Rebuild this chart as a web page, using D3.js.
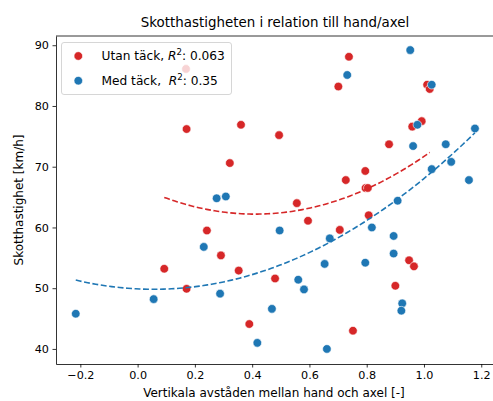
<!DOCTYPE html>
<html><head><meta charset="utf-8">
<script src="https://cdn.jsdelivr.net/npm/d3@7"></script>
<style>
body{margin:0;background:#fff}
svg text{font-family:"DejaVu Sans",sans-serif;fill:#000}
</style>
</head><body>
<svg id="c" width="493" height="401"></svg>
<script>
// ---- data ----
const utanX = [0.169,0.171,0.361,0.322,0.494,0.738,0.701,1.011,1.020,0.959,0.992,0.878,0.795,0.727,0.796,0.804,0.556,0.595,0.706,0.807,0.480,0.948,0.965,0.900,0.752,0.242,0.291,0.093,0.353,0.171,0.390];
const utanY = [86.1,76.2,76.9,70.6,75.2,88.1,83.2,83.5,82.8,76.6,77.5,73.7,69.3,67.8,66.5,66.5,64.0,61.1,59.6,62.0,51.6,54.6,53.6,50.4,43.0,59.5,55.4,53.2,52.9,49.9,44.1];
const medX = [0.952,0.732,1.027,0.977,1.178,0.962,1.076,1.095,1.027,1.157,0.908,0.496,0.818,0.894,0.671,0.894,0.653,0.795,0.561,0.581,0.924,0.921,0.661,0.469,0.276,0.308,0.231,-0.216,0.056,0.288,0.418];
const medY = [89.2,85.1,83.5,76.9,76.3,73.4,73.7,70.8,69.6,67.8,64.4,59.5,60.0,58.6,58.2,55.7,54.0,54.2,51.4,49.8,47.5,46.3,40.0,46.6,64.8,65.1,56.8,45.8,48.2,49.1,41.0];
const xTicks = [-0.2,0.0,0.2,0.4,0.6,0.8,1.0,1.2];
const yTicks = [40,50,60,70,80,90];
const seriesNames = ["Utan täck", "Med täck"];
const r2Labels = ["0.063", "0.35"];
const colors = ["#d62728", "#1f77b4"];
const titleText = "Skotthastigheten i relation till hand/axel";
const xLabel = "Vertikala avståden mellan hand och axel [-]";
const yLabel = "Skotthastighet [km/h]";

// ---- layout ----
const L = 56, T = 36, B = 364, R = 495;
const svg = d3.select("#c");
const x = d3.scaleLinear().domain([-0.285, 1.248]).range([L, R]);
const y = d3.scaleLinear().domain([37.52, 91.52]).range([B, T]);

svg.append("defs").append("clipPath").attr("id","clip")
  .append("rect").attr("x",L).attr("y",T).attr("width",R-L).attr("height",B-T);

function polyfit2(xs, ys){
  let S=[0,0,0,0,0], Tt=[0,0,0];
  xs.forEach((xv,i)=>{ let p=1; for(let k=0;k<5;k++){S[k]+=p; if(k<3) Tt[k]+=p*ys[i]; p*=xv;} });
  const A=[[S[0],S[1],S[2],Tt[0]],[S[1],S[2],S[3],Tt[1]],[S[2],S[3],S[4],Tt[2]]];
  for(let i=0;i<3;i++){ for(let j=i+1;j<3;j++){ const f=A[j][i]/A[i][i]; for(let k=i;k<4;k++) A[j][k]-=f*A[i][k]; } }
  const c=[0,0,0];
  for(let i=2;i>=0;i--){ let s=A[i][3]; for(let k=i+1;k<3;k++) s-=A[i][k]*c[k]; c[i]=s/A[i][i]; }
  return c; // c0 + c1 x + c2 x^2
}

const plot = svg.append("g").attr("clip-path","url(#clip)");
const series = [[utanX,utanY],[medX,medY]];
series.forEach(([xs,ys],si)=>{
  plot.append("g").selectAll("circle").data(xs.map((v,i)=>[v,ys[i]])).join("circle")
    .attr("cx",d=>x(d[0])).attr("cy",d=>y(d[1])).attr("r",4.3)
    .attr("fill",colors[si]).attr("stroke","#fff").attr("stroke-width",0.6);
});
series.forEach(([xs,ys],si)=>{
  const c = polyfit2(xs,ys);
  const [mn,mx] = d3.extent(xs);
  const pts = d3.range(101).map(i=>{ const xv = mn+(mx-mn)*i/100; return [xv, c[0]+c[1]*xv+c[2]*xv*xv]; });
  plot.append("path").datum(pts)
    .attr("d", d3.line().x(d=>x(d[0])).y(d=>y(d[1])))
    .attr("fill","none").attr("stroke",colors[si]).attr("stroke-width",1.6)
    .attr("stroke-dasharray","5.9,2.6");
});

// ---- axes ----
const fmt = d => (d<0?"\u2212":"") + Math.abs(d).toFixed(1);
const gx = svg.append("g").attr("transform",`translate(0,${B})`)
  .call(d3.axisBottom(x).tickValues(xTicks).tickFormat(fmt).tickSize(3.5).tickPadding(3.5).tickSizeOuter(0));
const gy = svg.append("g").attr("transform",`translate(${L},0)`)
  .call(d3.axisLeft(y).tickValues(yTicks).tickFormat(d3.format("d")).tickSize(3.5).tickPadding(3.5).tickSizeOuter(0));
[gx,gy].forEach(g=>{
  g.selectAll("text").attr("font-size","11.2px").attr("font-family","DejaVu Sans").attr("fill","#000");
  g.selectAll("line").attr("stroke","#000").attr("stroke-width",0.8);
  g.select(".domain").attr("stroke","#000").attr("stroke-width",0.8);
});
svg.append("line").attr("x1",L).attr("x2",R).attr("y1",T).attr("y2",T).attr("stroke","#000").attr("stroke-width",0.8);
svg.append("line").attr("x1",R).attr("x2",R).attr("y1",T).attr("y2",B).attr("stroke","#000").attr("stroke-width",0.8);

svg.append("text").attr("x",275).attr("y",27).attr("text-anchor","middle").attr("font-size","13.4px").text(titleText);
svg.append("text").attr("x",274).attr("y",397).attr("text-anchor","middle").attr("font-size","12px").text(xLabel);
svg.append("text").attr("transform","translate(23,200) rotate(-90)").attr("text-anchor","middle").attr("font-size","12px").text(yLabel);

// ---- legend ----
const lg = svg.append("g");
lg.append("rect").attr("x",61.5).attr("y",42.5).attr("width",170).attr("height",52).attr("rx",2.5)
  .attr("fill","#fff").attr("fill-opacity",0.8).attr("stroke","#ccc").attr("stroke-width",0.8);
const rowsY = [56, 80.7];
seriesNames.forEach((nm,i)=>{
  lg.append("circle").attr("cx",78.3).attr("cy",rowsY[i]).attr("r",4.3).attr("fill",colors[i]).attr("stroke","#fff").attr("stroke-width",0.6);
  const t = lg.append("text").attr("x",101.5).attr("y",rowsY[i]+4.3).attr("font-size","12.2px").style("white-space","pre");
  t.append("tspan").text(nm + (i===1 ? ",  " : ", "));
  t.append("tspan").attr("font-style","italic").text("R");
  t.append("tspan").attr("dy",-5).attr("font-size","8.6px").text("2");
  t.append("tspan").attr("dy",5).text(": " + r2Labels[i]);
});
</script>
</body></html>
